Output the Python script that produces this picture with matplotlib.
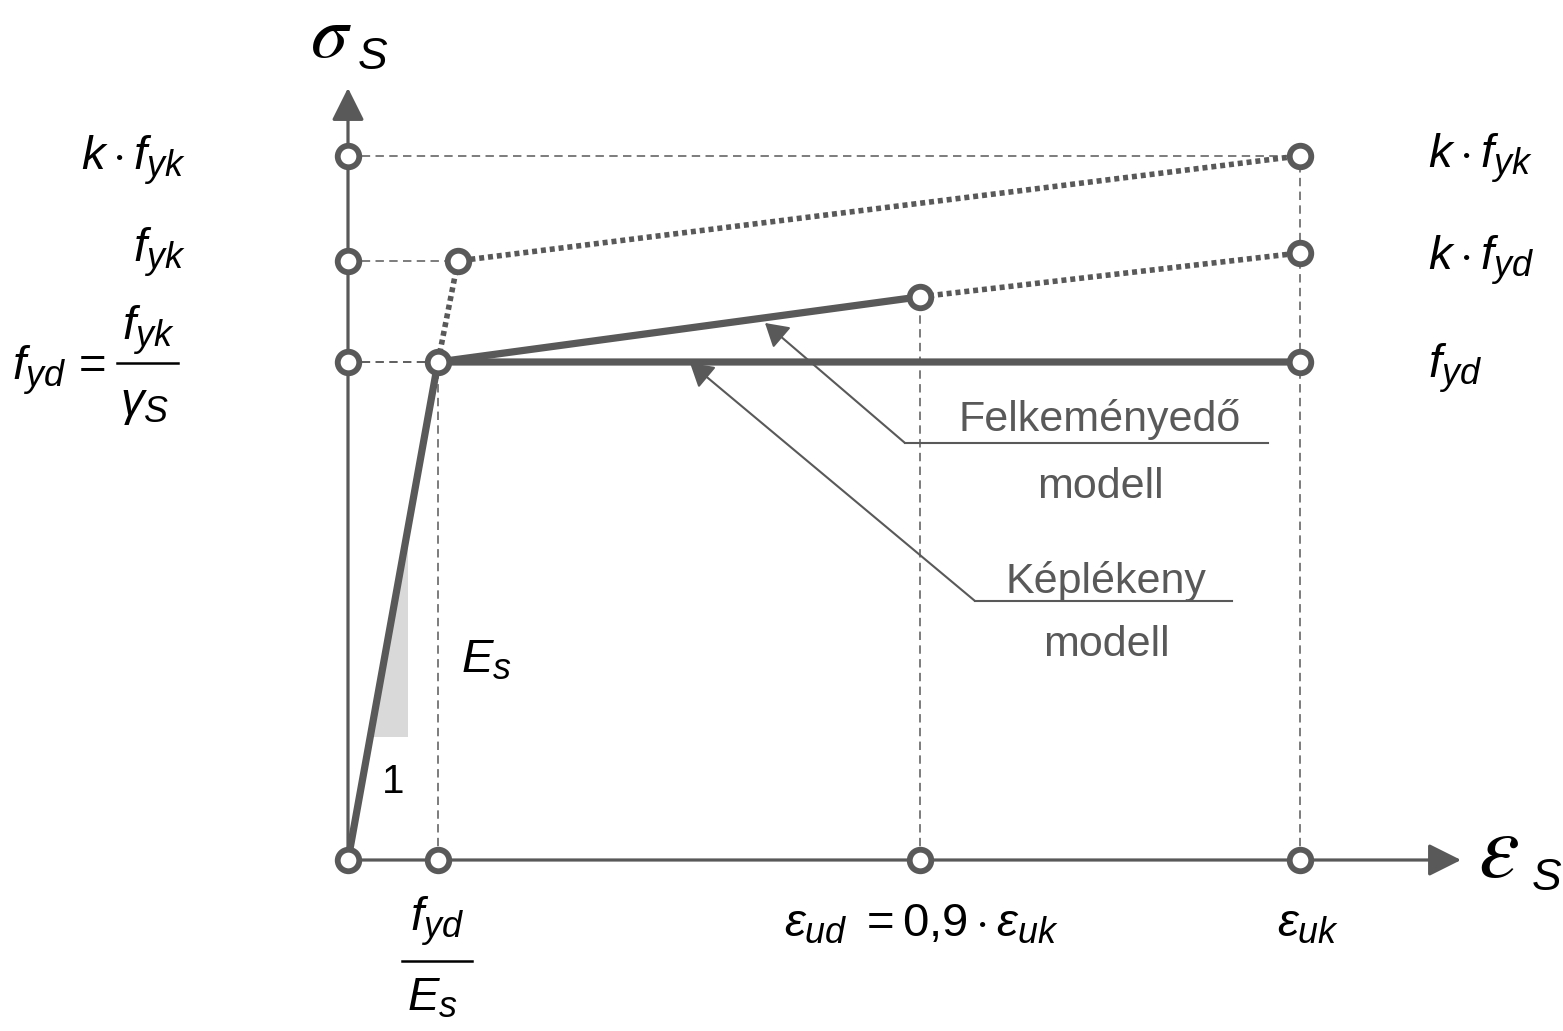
import matplotlib
matplotlib.use('Agg')
import matplotlib.pyplot as plt
from matplotlib import font_manager as fm
from matplotlib.patches import ArrowStyle, Polygon

try:  # slightly larger sub-scripts, as in the original drawing
    import matplotlib._mathtext as _mt
    _mt.SHRINK_FACTOR = 0.76
except Exception:
    pass


def has_font(name):
    try:
        fm.findfont(fm.FontProperties(family=name), fallback_to_default=False)
        return True
    except Exception:
        return False


SANS = 'Liberation Sans Narrow' if has_font('Liberation Sans Narrow') else 'Liberation Sans'
plt.rcParams['font.family'] = [SANS, 'DejaVu Sans']
plt.rcParams['mathtext.fontset'] = 'custom'
plt.rcParams['mathtext.it'] = SANS + ':italic'
plt.rcParams['mathtext.rm'] = SANS
plt.rcParams['mathtext.bf'] = SANS + ':bold'

# ---------------- data (normalised: eps_uk = 1, f_yd = 1) ----------------
eps_yd = 0.0945      # f_yd / E_s
eps_yk = 0.1155      # f_yk / E_s
eps_ud = 0.601       # 0.9 * eps_uk (schematic)
eps_uk = 1.0
f_yd = 1.0
f_yk = 1.203
k_fyk = 1.414
k_fyd = 1.219
sig_ud = 1.131       # stress of hardening design branch at eps_ud

# plastic (Képlékeny) design model
plastic_eps = [0.0, eps_yd, eps_uk]
plastic_sig = [0.0, f_yd, f_yd]
# hardening (Felkeményedő) design model - solid part
hard_eps = [eps_yd, eps_ud]
hard_sig = [f_yd, sig_ud]
# hardening design model - dotted extension to eps_uk
hard_ext_eps = [eps_ud, eps_uk]
hard_ext_sig = [sig_ud, k_fyd]
# characteristic curve (dotted)
char_eps = [eps_yd, eps_yk, eps_uk]
char_sig = [f_yd, f_yk, k_fyk]

# characteristic points (circles)
pt_eps = [0, 0, 0, 0, eps_yd, eps_ud, eps_uk, eps_yd, eps_yk, eps_ud, eps_uk, eps_uk, eps_uk]
pt_sig = [0, f_yd, f_yk, k_fyk, 0, 0, 0, f_yd, f_yk, sig_ud, k_fyk, k_fyd, f_yd]

GRAY = '#595959'

# ---------------- figure ----------------
W, H = 1563, 1031
fig = plt.figure(figsize=(W / 100, H / 100), dpi=100)
ax = fig.add_axes([0, 0, 1, 1])
X0, Y0, SX, SY = 348, 860, 952, 498


def P(x, y):
    """pixel position -> data position (used for text placement only)"""
    return ((x - X0) / SX, (Y0 - y) / SY)


ax.set_xlim(P(0, 0)[0], P(W, 0)[0])
ax.set_ylim(P(0, H)[1], P(0, 0)[1])
ax.axis('off')

# axes with arrows
axis_style = ArrowStyle('-|>', head_length=0.4, head_width=0.2)
ax.annotate('', xy=(0, P(0, 88)[1]), xytext=(0, 0),
            arrowprops=dict(arrowstyle=axis_style, color=GRAY, lw=2.3,
                            mutation_scale=50, shrinkA=0, shrinkB=0), zorder=2)
ax.annotate('', xy=(P(1461, 0)[0], 0), xytext=(0, 0),
            arrowprops=dict(arrowstyle=axis_style, color=GRAY, lw=2.3,
                            mutation_scale=50, shrinkA=0, shrinkB=0), zorder=2)

# dashed guide lines
dash = dict(color=GRAY, lw=1.1, ls=(0, (5.5, 3.5)), zorder=1)
ax.plot([0, eps_uk], [k_fyk, k_fyk], **dash)
ax.plot([0, eps_yk], [f_yk, f_yk], **dash)
ax.plot([0, eps_yd], [f_yd, f_yd], color='#333333', lw=1.1, ls=(0, (5.5, 3.5)), zorder=1)
ax.plot([eps_yd, eps_yd], [0, f_yd], **dash)
ax.plot([eps_ud, eps_ud], [0, sig_ud], **dash)
ax.plot([eps_uk, eps_uk], [0, k_fyk], **dash)

# slope triangle (E_s)
slope = f_yd / eps_yd
tri_y0, tri_x1 = P(0, 737)[1], P(408, 0)[0]
ax.add_patch(Polygon([(tri_y0 / slope, tri_y0), (tri_x1, tri_y0), (tri_x1, tri_x1 * slope)],
                     closed=True, facecolor='#d9d9d9', edgecolor='none', zorder=0))

# model curves
ax.plot(char_eps, char_sig, color=GRAY, lw=4.0, ls=(0, (0.9, 0.7)), zorder=3,
        dash_capstyle='butt')
ax.plot(hard_ext_eps, hard_ext_sig, color=GRAY, lw=4.0, ls=(0, (0.9, 0.7)), zorder=3,
        dash_capstyle='butt')
ax.plot(plastic_eps, plastic_sig, color=GRAY, lw=5.2, zorder=4, solid_capstyle='butt')
ax.plot(hard_eps, hard_sig, color=GRAY, lw=5.2, zorder=4, solid_capstyle='butt')

# circles
ax.plot(pt_eps, pt_sig, ls='none', marker='o', ms=15.5, mew=4.2,
        mfc='white', mec=GRAY, zorder=6)

# leader arrows
lead_style = ArrowStyle('-|>', head_length=0.5, head_width=0.3)
for tip, knee, end in [((765, 323), (905, 443), (1268, 443)),
                       ((690, 363), (975, 601), (1232, 601))]:
    ax.plot([P(*knee)[0], P(*end)[0]], [P(*knee)[1], P(*end)[1]], color=GRAY, lw=1.5, zorder=2)
    ax.annotate('', xy=P(*tip), xytext=P(*knee),
                arrowprops=dict(arrowstyle=lead_style, color=GRAY, lw=1.5,
                                mutation_scale=28, shrinkA=0, shrinkB=0), zorder=5)

# ---------------- texts ----------------
FS = 34
def T(x, y, s, size=FS, ha='center', va='center', color='black', **kw):
    ax.text(*P(x, y), s, fontsize=size, ha=ha, va=va, color=color, **kw)

# axis titles
T(331, 38, r'$\sigma$', size=54, math_fontfamily='stix')
T(373, 58, 'S', size=32, style='italic')
T(1498, 853, r'$\varepsilon$', size=66, math_fontfamily='stix')
T(1547, 879, 'S', size=32, style='italic')

# left labels
T(186, 160, r'$k\cdot f_{yk}$', ha='right')
T(186, 252, r'$f_{yk}$', ha='right')
T(12, 370, r'$f_{yd}\,=$', ha='left')
T(148, 330, r'$f_{yk}$')
ax.plot([P(117, 0)[0], P(178, 0)[0]], [P(0, 363)[1]] * 2, color='black', lw=1.8)
T(145, 405, r'$\gamma_S$')

# right labels
T(1428, 158, r'$k\cdot f_{yk}$', ha='left')
T(1428, 260, r'$k\cdot f_{yd}$', ha='left')
T(1428, 368, r'$f_{yd}$', ha='left')

# bottom labels
T(437, 921, r'$f_{yd}$')
ax.plot([P(402, 0)[0], P(472, 0)[0]], [P(0, 961)[1]] * 2, color='black', lw=1.8)
T(432, 998, r'$E_s$')
T(922, 925, r'$\varepsilon_{ud}\ = 0{,}9\cdot\varepsilon_{uk}$')
T(1308, 925, r'$\varepsilon_{uk}$')

# slope labels
T(486, 660, r'$E_s$')
T(393, 782, '1', size=29)

# model names
T(1100, 420, 'Felkeményedő', size=31, color=GRAY)
T(1100, 487, 'modell', size=31, color=GRAY)
T(1106, 582, 'Képlékeny', size=31, color=GRAY)
T(1106, 645, 'modell', size=31, color=GRAY)

fig.savefig('out.png', dpi=100)
